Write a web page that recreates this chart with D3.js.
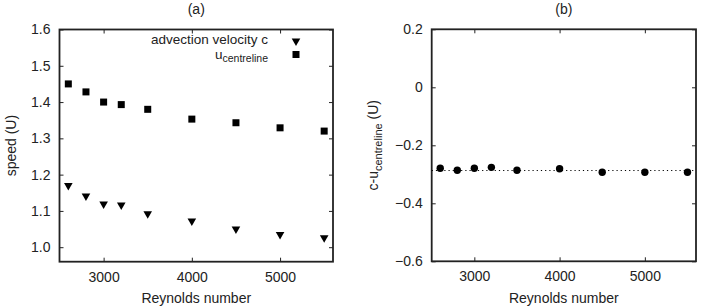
<!DOCTYPE html>
<html>
<head>
<meta charset="utf-8">
<script src="https://cdn.jsdelivr.net/npm/d3@7"></script>
<style>
  html, body { margin: 0; padding: 0; background: #fff; }
  svg { display: block; font-family: "Liberation Sans", Arial, sans-serif; }
</style>
</head>
<body>
<svg id="chart" width="709" height="308"></svg>
<script>
// ---- data ----
const reynolds = [2600, 2800, 3000, 3200, 3500, 4000, 4500, 5000, 5500];
const advectionC = [1.170, 1.141, 1.119, 1.116, 1.092, 1.072, 1.050, 1.035, 1.026];
const uCentreline = [1.450, 1.428, 1.400, 1.393, 1.380, 1.353, 1.343, 1.329, 1.320];
const cMinusU = [-0.279, -0.286, -0.279, -0.276, -0.286, -0.281, -0.293, -0.293, -0.293];
const meanLine = -0.287;
const xTicks = [3000, 4000, 5000];
const yTicksA = [1.0, 1.1, 1.2, 1.3, 1.4, 1.5, 1.6];
const yTicksB = [-0.6, -0.4, -0.2, 0, 0.2];

const svg = d3.select("#chart");
const axisColor = "#222";
const fontSize = 14;

function panel(opts) {
  const { left, right, top, bottom, xDomain, yDomain, yTicks, yFmt, title } = opts;
  const x = d3.scaleLinear().domain(xDomain).range([left, right]);
  const y = d3.scaleLinear().domain(yDomain).range([bottom, top]);
  const g = svg.append("g");

  const xb = g.append("g").attr("transform", `translate(0,${bottom})`)
    .call(d3.axisBottom(x).tickValues(xTicks).tickSizeInner(-4).tickSizeOuter(0).tickPadding(10).tickFormat(d3.format("d")));
  const xt = g.append("g").attr("transform", `translate(0,${top})`)
    .call(d3.axisTop(x).tickValues(xTicks).tickSizeInner(-4).tickSizeOuter(0).tickFormat(""));
  const yl = g.append("g").attr("transform", `translate(${left},0)`)
    .call(d3.axisLeft(y).tickValues(yTicks).tickSizeInner(-4).tickSizeOuter(0).tickPadding(9).tickFormat(yFmt));
  const yr = g.append("g").attr("transform", `translate(${right},0)`)
    .call(d3.axisRight(y).tickValues(yTicks).tickSizeInner(-4).tickSizeOuter(0).tickFormat(""));
  [xb, xt, yl, yr].forEach(a => {
    a.select(".domain").remove();
    a.selectAll(".tick line").attr("stroke", axisColor).attr("stroke-width", 1);
    a.selectAll(".tick text").attr("fill", "#222").style("font-size", fontSize + "px").style("font-family", '"Liberation Sans", Arial, sans-serif');
  });
  g.append("rect").attr("x", left).attr("y", top).attr("width", right - left).attr("height", bottom - top)
    .attr("fill", "none").attr("stroke", axisColor).attr("stroke-width", 1.8);

  g.append("text").attr("x", (left + right) / 2).attr("y", 14).attr("text-anchor", "middle")
    .style("font-size", fontSize + "px").attr("fill", "#222").text(title);
  g.append("text").attr("x", (left + right) / 2).attr("y", 303).attr("text-anchor", "middle")
    .style("font-size", fontSize + "px").attr("fill", "#222").text("Reynolds number");
  return { g, x, y };
}

// Panel (a)
const A = panel({ left: 59.5, right: 333, top: 29.5, bottom: 261.7, xDomain: [2500, 5600], yDomain: [0.96, 1.6],
  yTicks: yTicksA, yFmt: d3.format(".1f"), title: "(a)" });
A.g.append("text").attr("transform", `translate(16,${(29.5 + 261.7) / 2}) rotate(-90)`).attr("text-anchor", "middle")
  .style("font-size", fontSize + "px").attr("fill", "#222").text("speed (U)");

const tri = d3.symbol().type(d3.symbolTriangle).size(32);
const sq = 7;
A.g.selectAll(".tri").data(reynolds).enter().append("path")
  .attr("d", tri).attr("fill", "#000")
  .attr("transform", (d, i) => `translate(${A.x(d)},${A.y(advectionC[i])}) rotate(180)`);
A.g.selectAll(".sq").data(reynolds).enter().append("rect")
  .attr("x", d => A.x(d) - sq / 2).attr("y", (d, i) => A.y(uCentreline[i]) - sq / 2)
  .attr("width", sq).attr("height", sq).attr("fill", "#000");

// legend
const lg = A.g.append("g");
lg.append("text").attr("x", 268).attr("y", 44).attr("text-anchor", "end").style("font-size", "13.5px").attr("fill", "#222")
  .text("advection velocity c");
lg.append("path").attr("d", tri).attr("fill", "#000").attr("transform", "translate(296,41) rotate(180)");
const t2 = lg.append("text").attr("x", 268).attr("y", 58.5).attr("text-anchor", "end").style("font-size", "13.5px").attr("fill", "#222");
t2.append("tspan").text("u");
t2.append("tspan").attr("dy", 3.5).style("font-size", "10.5px").text("centreline");
lg.append("rect").attr("x", 296 - sq / 2).attr("y", 54.5 - sq / 2).attr("width", sq).attr("height", sq).attr("fill", "#000");

// Panel (b)
const B = panel({ left: 431.7, right: 696, top: 29.3, bottom: 261.3, xDomain: [2500, 5600], yDomain: [-0.6, 0.2],
  yTicks: yTicksB, yFmt: d => d === 0 ? "0" : d3.format(".1f")(d), title: "(b)" });
const bl = B.g.append("text").attr("transform", `translate(378,${(29.3 + 261.3) / 2}) rotate(-90)`).attr("text-anchor", "middle")
  .style("font-size", fontSize + "px").attr("fill", "#222");
bl.append("tspan").text("c-u");
bl.append("tspan").attr("dy", 4).style("font-size", "11px").text("centreline");
bl.append("tspan").attr("dy", -4).text(" (U)");

B.g.append("line").attr("x1", B.x(2500)).attr("x2", B.x(5600)).attr("y1", B.y(meanLine)).attr("y2", B.y(meanLine))
  .attr("stroke", "#000").attr("stroke-width", 1).attr("stroke-dasharray", "1.2,3");
B.g.selectAll(".dot").data(reynolds).enter().append("circle")
  .attr("cx", d => B.x(d)).attr("cy", (d, i) => B.y(cMinusU[i])).attr("r", 3.7).attr("fill", "#000");
</script>
</body>
</html>
